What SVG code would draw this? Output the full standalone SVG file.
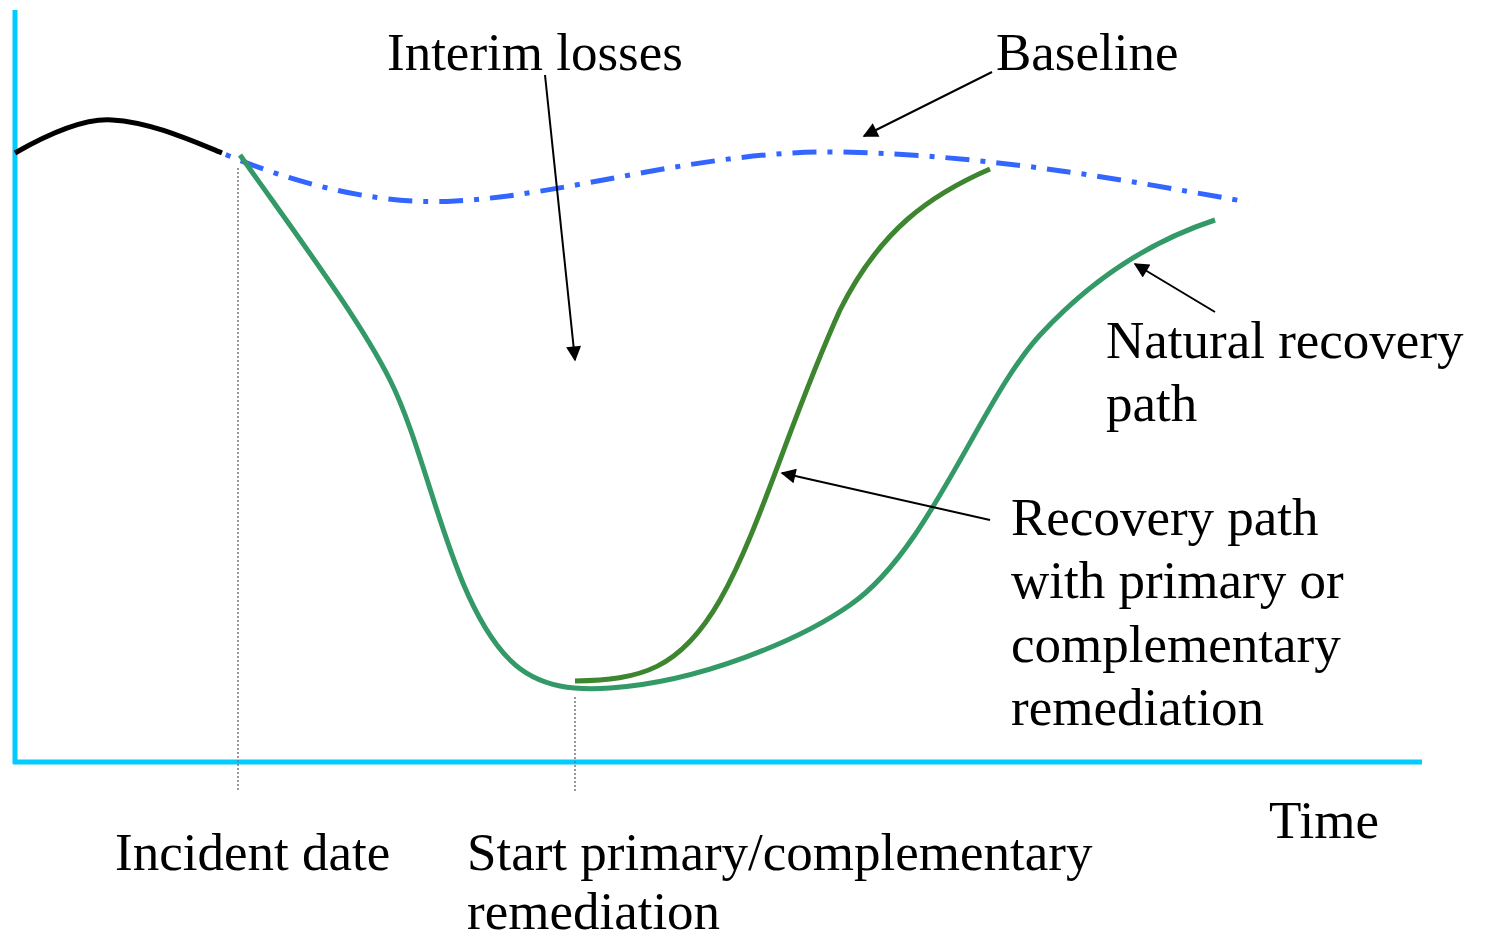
<svg xmlns="http://www.w3.org/2000/svg" width="1485" height="939" viewBox="0 0 1485 939">
<defs>
<style>
text{font-family:"Liberation Serif","Times New Roman",serif;font-size:53px;fill:#000}
.axis{stroke:#00CCFF;stroke-width:5;fill:none}
.guide{stroke:#777;stroke-width:1.5;stroke-dasharray:2 2;fill:none}
.ptr{stroke:#000;stroke-width:2;fill:none}
</style>
<marker id="ah" viewBox="0 0 10 10" refX="9" refY="5" markerWidth="17" markerHeight="15" markerUnits="userSpaceOnUse" orient="auto"><path d="M0,0 L10,5 L0,10 Z" fill="#000"/></marker>
</defs>
<g id="axes">
<line class="axis" x1="15" y1="10" x2="15" y2="764"/>
<line class="axis" x1="13" y1="762" x2="1422" y2="762"/>
</g>
<g id="guides">
<line class="guide" x1="238" y1="168" x2="238" y2="792"/>
<line class="guide" x1="575" y1="697" x2="575" y2="792"/>
</g>
<g id="curves">
<path id="history" d="M15,153 C50,133 85,118 112,120 C150,122 190,140 222,153" stroke="#000" stroke-width="5" fill="none"/>
<path id="baseline" d="M222,153 C310,190 390,205 455,201 C570,195 700,150 840,152 C1000,155 1150,185 1248,202" stroke="#3366FF" stroke-width="5" fill="none" stroke-dasharray="24 11 5 11" stroke-dashoffset="-20"/>
<path id="natural" d="M240,155 C300,240 360,320 390,380 C430,460 450,600 510,660 C540,690 580,690 610,688 C700,682 800,640 850,605 C930,550 980,400 1040,335 C1100,270 1160,238 1215,220" stroke="#339966" stroke-width="5" fill="none"/>
<path id="primary" d="M575,681 C640,680 680,670 720,600 C760,530 790,420 840,310 C880,230 930,195 990,169" stroke="#3D862F" stroke-width="5" fill="none"/>
</g>
<g id="connectors">
<line class="ptr" x1="545" y1="75" x2="575" y2="360" marker-end="url(#ah)"/>
<line class="ptr" x1="992" y1="72" x2="864" y2="136" marker-end="url(#ah)"/>
<line class="ptr" x1="1215" y1="312" x2="1135" y2="264" marker-end="url(#ah)"/>
<line class="ptr" x1="990" y1="520" x2="782" y2="473" marker-end="url(#ah)"/>
</g>
<g id="label-interim"><text x="387" y="70">Interim losses</text></g>
<g id="label-baseline"><text x="996" y="70">Baseline</text></g>
<g id="label-natural"><text x="1106" y="358">Natural recovery</text><text x="1106" y="421">path</text></g>
<g id="label-recovery"><text x="1011" y="535">Recovery path</text><text x="1011" y="598">with primary or</text><text x="1011" y="662">complementary</text><text x="1011" y="725">remediation</text></g>
<g id="label-time"><text x="1269" y="838">Time</text></g>
<g id="label-incident"><text x="115" y="870">Incident date</text></g>
<g id="label-start"><text x="467" y="870">Start primary/complementary</text><text x="467" y="929">remediation</text></g>
</svg>
